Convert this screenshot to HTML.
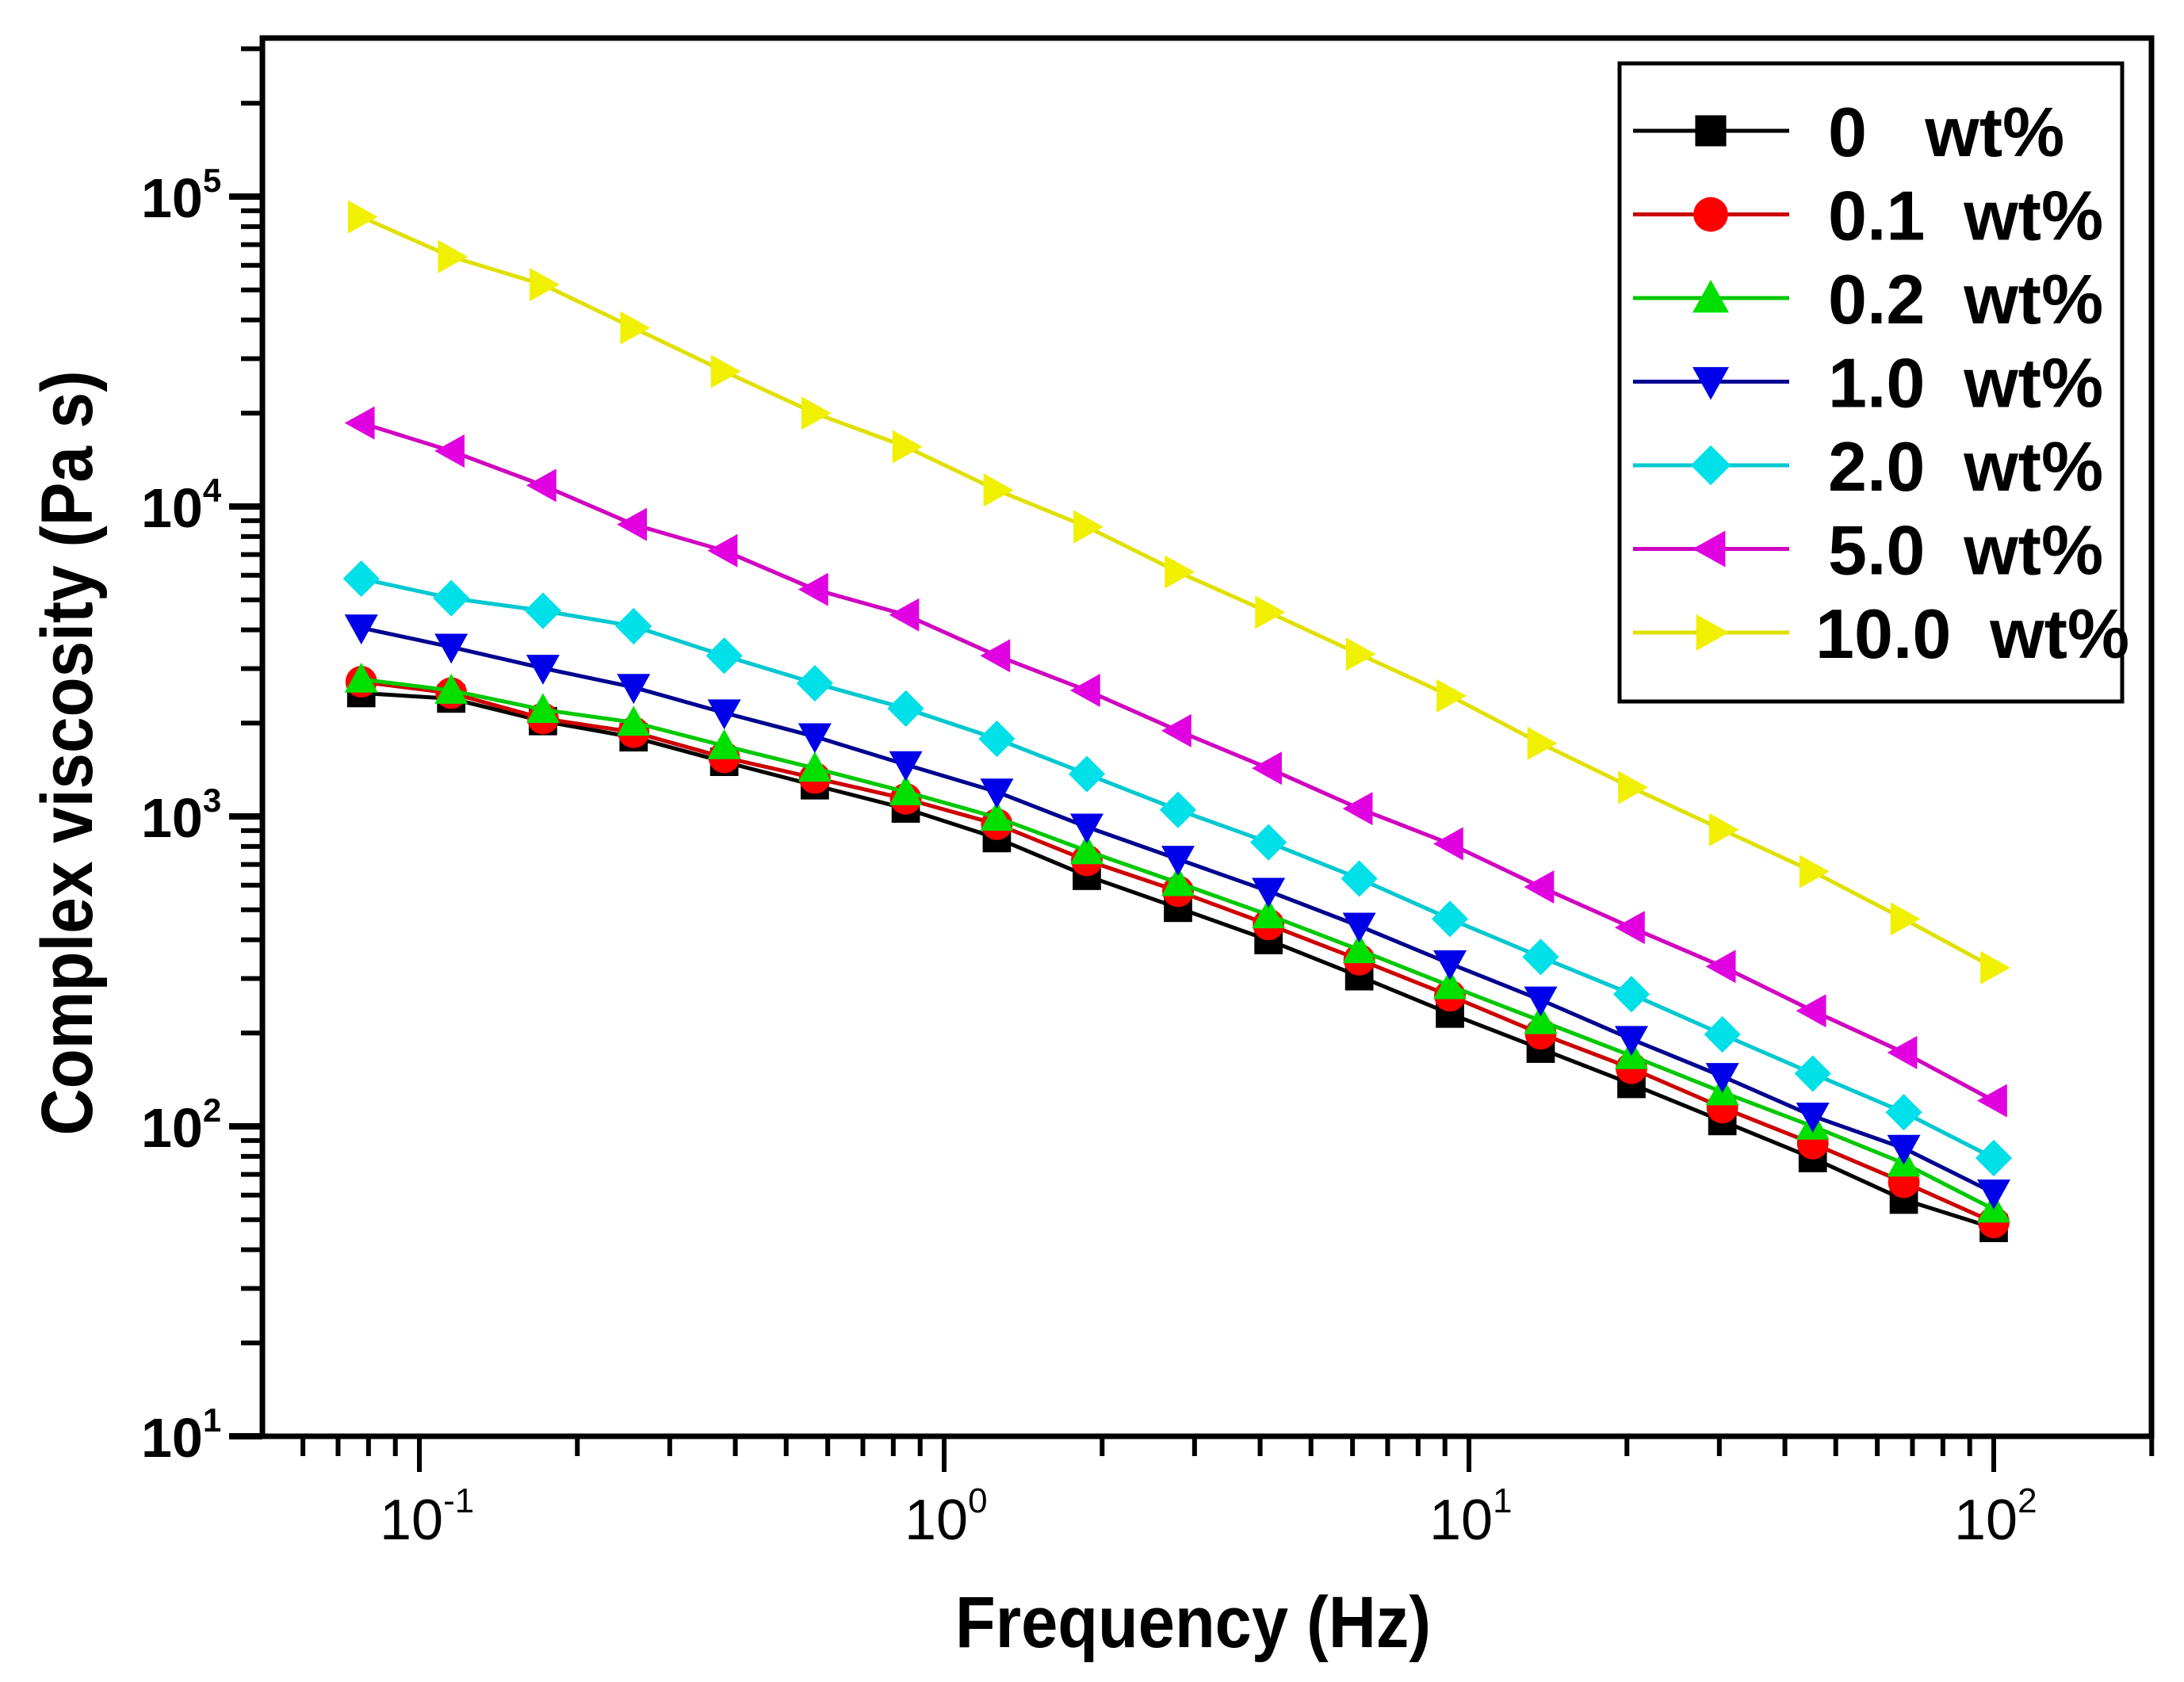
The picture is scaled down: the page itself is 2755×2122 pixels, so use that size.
<!DOCTYPE html>
<html><head><meta charset="utf-8"><style>
html,body{margin:0;padding:0;background:#fff;}
svg{display:block;}
text{font-family:"Liberation Sans",Arial,sans-serif;}
</style></head>
<body>
<svg id="chart" width="2755" height="2122" viewBox="0 0 2755 2122" xmlns="http://www.w3.org/2000/svg">
<rect x="0" y="0" width="2755" height="2122" fill="#fff"/>
<g id="plot"></g>
<g id="axes"></g>
<text x="85" y="950" transform="rotate(-90 85 950)" text-anchor="middle" dominant-baseline="central" font-size="92" font-weight="bold" textLength="965" lengthAdjust="spacingAndGlyphs">Complex viscosity (Pa s)</text>
<text x="1505" y="2078" text-anchor="middle" font-size="92" font-weight="bold" textLength="600" lengthAdjust="spacingAndGlyphs">Frequency (Hz)</text>
<g id="legend"></g>
</svg>
<script>
const frequencies = [0.0775,0.115,0.172,0.256,0.381,0.567,0.845,1.26,1.87,2.79,4.15,6.18,9.2,13.7,20.4,30.4,45.2,67.4,100];
const seriesLabels = ["0   wt%","0.1  wt%","0.2  wt%","1.0  wt%","2.0  wt%","5.0  wt%","10.0  wt%"];
const v0 = [2500,2400,2030,1800,1500,1260,1060,851,643,507,399,305,231,178,137,104,79,58,47];
const v01 = [2720,2500,2070,1870,1550,1330,1140,944,721,574,448,345,264,199,154,115,88,66,49];
const v02 = [2770,2550,2210,2010,1690,1430,1200,993,774,611,481,371,284,219,169,129,100,76,54];
const v1 = [4060,3520,3010,2610,2160,1810,1470,1200,925,728,574,443,335,256,191,145,108,85,61];
const v2 = [5850,5060,4610,4110,3300,2690,2230,1780,1370,1050,825,630,467,352,267,198,148,111,79];
const v5 = [18600,15100,11700,8750,7200,5400,4470,3300,2550,1890,1430,1060,816,592,438,328,236,173,121];
const v10 = [86000,64000,52000,37700,27300,20000,15600,11300,8600,6150,4560,3340,2450,1720,1240,906,664,467,325];
const xTickLabels = ["-1","0","1","2"];
const yTickLabels = ["1","2","3","4","5"];

const NS="http://www.w3.org/2000/svg";
const L=331,R=2714,T=48,B=1812;
const X0=529, XDEC=662;
const Y0=1812, YDEC=391;
function xs(v){return X0+(Math.log10(v)+1)*XDEC;}
function ys(v){return Y0-(Math.log10(v)-1)*YDEC;}
function mk(tag,attrs,parent){const e=document.createElementNS(NS,tag);for(const k in attrs)e.setAttribute(k,attrs[k]);parent.appendChild(e);return e;}

const series=[
 {vals:v0,color:"#000",line:"#000",shape:"square"},
 {vals:v01,color:"#f00",line:"#c00",shape:"circle"},
 {vals:v02,color:"#00e000",line:"#00c800",shape:"up"},
 {vals:v1,color:"#0000e8",line:"#000090",shape:"down"},
 {vals:v2,color:"#00e0e8",line:"#00c8d0",shape:"diamond"},
 {vals:v5,color:"#e000e0",line:"#d000c0",shape:"left"},
 {vals:v10,color:"#f0f000",line:"#e0e000",shape:"right"}
];
function marker(g,shape,cx,cy,s,color){
 const h=s/2;let el;
 if(shape==="square")el=mk("rect",{x:cx-h*0.85,y:cy-h*0.85,width:s*0.85,height:s*0.85,fill:color},g);
 else if(shape==="circle")el=mk("circle",{cx:cx,cy:cy,r:h*0.95,fill:color},g);
 else{
  let p;
  if(shape==="up")p=[[cx,cy-h],[cx+h,cy+h*0.8],[cx-h,cy+h*0.8]];
  if(shape==="down")p=[[cx,cy+h],[cx+h,cy-h*0.8],[cx-h,cy-h*0.8]];
  if(shape==="left")p=[[cx-h,cy],[cx+h*0.8,cy-h],[cx+h*0.8,cy+h]];
  if(shape==="right")p=[[cx+h,cy],[cx-h*0.8,cy-h],[cx-h*0.8,cy+h]];
  if(shape==="diamond")p=[[cx,cy-h*1.1],[cx+h*1.1,cy],[cx,cy+h*1.1],[cx-h*1.1,cy]];
  el=mk("polygon",{points:p.map(q=>q.join(",")).join(" "),fill:color},g);
 }
 return el;
}
const plot=document.getElementById("plot");
series.forEach((s,i)=>{
 const g=mk("g",{},plot);
 
 
 const pts=frequencies.map((f,j)=>xs(f)+","+ys(s.vals[j])).join(" ");
 const pl=mk("polyline",{points:pts,fill:"none",stroke:s.line,"stroke-width":5},g);
 
 
 frequencies.forEach((f,j)=>{
  const m=marker(g,s.shape,xs(f),ys(s.vals[j]),42,s.color);
  
  
 });
});

const axes=document.getElementById("axes");
const frame=mk("rect",{x:L,y:T,width:R-L,height:B-T,fill:"none",stroke:"#000","stroke-width":7},axes);


for(let d=1;d<=5;d++){
 for(let k=1;k<=9;k++){
  const v=k*Math.pow(10,d);const y=ys(v);
  if(y<T-1)continue;
  const len=k===1?42:27;
  const t=mk("line",{x1:L-len,y1:y,x2:L,y2:y,stroke:"#000","stroke-width":k===1?8:6},axes);
  
  
 }
}
yTickLabels.forEach(e=>{
 const y=ys(Math.pow(10,+e));
 const t=mk("text",{x:178,y:y+26,"font-size":70,"font-weight":"bold"},axes);
 
 
 t.textContent="10";
 const sp=mk("tspan",{dy:-32,"font-size":42},t);sp.textContent=e;
});
for(let d=-2;d<=2;d++){
 for(let k=1;k<=9;k++){
  const v=k*Math.pow(10,d);const x=xs(v);
  if(x<L-1||x>R+1)continue;
  const len=k===1?45:25;
  const t=mk("line",{x1:x,y1:B,x2:x,y2:B+len,stroke:"#000","stroke-width":6},axes);
  
  
 }
}
xTickLabels.forEach(e=>{
 const x=xs(Math.pow(10,+e));
 const t=mk("text",{x:x-50,y:1942,"font-size":72},axes);
 
 
 t.textContent="10";
 const sp=mk("tspan",{dy:-34,"font-size":44},t);sp.textContent=e;
});

const lg=document.getElementById("legend");
const box=mk("rect",{x:2043,y:80,width:2677-2043,height:885-80,fill:"#fff",stroke:"#000","stroke-width":5},lg);


series.forEach((s,i)=>{
 const cy=165+i*105.5;
 const g=mk("g",{},lg);
 
 
 mk("line",{x1:2060,y1:cy,x2:2257,y2:cy,stroke:s.line,"stroke-width":5},g);
 marker(g,s.shape,2158,cy,46,s.color);
 const t=mk("text",{x:i===6?2290:2306,y:cy+32,"font-size":88,"font-weight":"bold"},g);
 
 
 t.setAttribute("style","white-space:pre");
 t.textContent=seriesLabels[i];
});
</script>
</body></html>
